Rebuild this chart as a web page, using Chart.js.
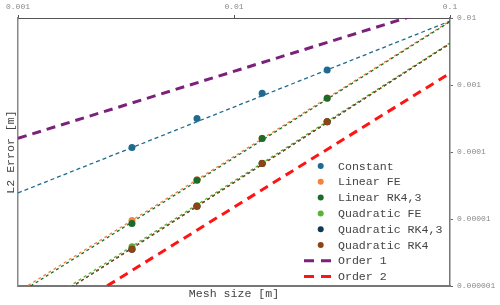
<!DOCTYPE html>
<html>
<head>
<meta charset="utf-8">
<script src="https://cdn.jsdelivr.net/npm/chart.js@4"></script>
<style>
  body { margin: 0; background: #fff; }
</style>
</head>
<body>
<canvas id="myChart" width="500" height="305"></canvas>
<script>
// data
const meshSize = [0.00337, 0.00674, 0.0135, 0.027]
const constantErr = [1.17e-4, 3.17e-4, 7.55e-4, 1.68e-3]
const linearFE = [9.5e-6, 3.85e-5, 1.6e-4, 6.4e-4]
const linearRK43 = [8.6e-6, 3.78e-5, 1.59e-4, 6.35e-4]
const quadFE = [3.85e-6, 1.58e-5, 6.8e-5, 2.83e-4]
const quadRK43 = [3.55e-6, 1.55e-5, 6.75e-5, 2.82e-4]
const quadRK4 = [3.55e-6, 1.55e-5, 6.75e-5, 2.82e-4]

// fitted lines, values at the two ends of the x range
const fitX = [0.001, 0.1]
const constantFit = [2.45e-5, 9.0e-3]
const linearFEFit = [8.2e-7, 9.0e-3]
const linearRK43Fit = [7.6e-7, 8.8e-3]
const quadFEFit = [3.2e-7, 4.25e-3]
const quadRK43Fit = [2.95e-7, 4.15e-3]
const quadRK4Fit = [2.95e-7, 4.15e-3]
const order1 = [1.6e-4, 1.6e-2]
const order2 = [1.5e-7, 1.5e-3]

const xTicks = [0.001, 0.01, 0.1]
const xTickLabels = ['0.001', '0.01', '0.1']
const yTicks = [0.000001, 0.00001, 0.0001, 0.001, 0.01]
const yTickLabels = ['0.000001', '0.00001', '0.0001', '0.001', '0.01']

const mono = 'Liberation Mono'
let chart

function pts(xs, ys) {
    return xs.map((x, i) => ({ x: x, y: ys[i] }))
}

function markers(label, ys, color, order) {
    return {
        type: 'scatter', label: label, data: pts(meshSize, ys),
        backgroundColor: color, borderWidth: 0, pointRadius: 3.5,
        order: order, inLegend: true, kind: 'dot'
    }
}

function fitLine(ys, color, dash, offset, order) {
    return {
        type: 'line', data: pts(fitX, ys), borderColor: color, borderWidth: 1.3,
        borderDash: dash, borderDashOffset: offset, pointRadius: 0, order: order
    }
}

function orderLine(label, ys, color) {
    return {
        type: 'line', label: label, data: pts(fitX, ys), borderColor: color, borderWidth: 3,
        borderDash: [9, 6], pointRadius: 0, order: 30, inLegend: true, kind: 'line'
    }
}

// legend drawn inside the plot, lower right
const innerLegend = {
    id: 'innerLegend',
    afterDraw(chart) {
        const ctx = chart.ctx
        const items = chart.data.datasets.filter(d => d.inLegend)
        items.sort((a, b) => a.legendIndex - b.legendIndex)
        ctx.save()
        ctx.font = '11.6px "' + mono + '"'
        ctx.textBaseline = 'middle'
        ctx.fillStyle = '#444'
        items.forEach((d, i) => {
            const y = 166 + i * 15.8
            if (d.kind === 'dot') {
                ctx.beginPath()
                ctx.arc(320.7, y, 3, 0, Math.PI * 2)
                ctx.fillStyle = d.backgroundColor
                ctx.fill()
            } else {
                ctx.beginPath()
                ctx.setLineDash([10, 7])
                ctx.lineWidth = 3
                ctx.strokeStyle = d.borderColor
                ctx.moveTo(304, y)
                ctx.lineTo(332, y)
                ctx.stroke()
                ctx.setLineDash([])
            }
            ctx.fillStyle = '#444'
            ctx.fillText(d.label, 338, y + 0.5)
        })
        ctx.restore()
    }
}

function showChart() {
    const datasets = [
        markers('Constant', constantErr, '#1f6a8e', 5),
        markers('Linear FE', linearFE, '#f4823c', 4),
        markers('Linear RK4,3', linearRK43, '#1b6b2b', 3),
        markers('Quadratic FE', quadFE, '#5bb336', 2),
        markers('Quadratic RK4,3', quadRK43, '#0e3a56', 1),
        markers('Quadratic RK4', quadRK4, '#8e4513', 0),
        fitLine(constantFit, '#1f6a8e', [4, 3], 0, 20),
        fitLine(linearFEFit, '#f4823c', [3, 3], 0, 19),
        fitLine(linearRK43Fit, '#1b6b2b', [3, 3], 3, 18),
        fitLine(quadFEFit, '#5bb336', [3, 3], 0, 17),
        fitLine(quadRK43Fit, '#0e3a56', [3, 3], 3, 16),
        fitLine(quadRK4Fit, '#8e4513', [3, 3], 3, 15),
        orderLine('Order 1', order1, '#7b217b'),
        orderLine('Order 2', order2, '#ff1414')
    ]
    let n = 0
    datasets.forEach(d => { if (d.inLegend) d.legendIndex = n++ })

    chart && chart.destroy()
    chart = new Chart(document.getElementById('myChart'), {
        type: 'scatter',
        data: { datasets: datasets },
        plugins: [innerLegend],
        options: {
            responsive: false,
            animation: false,
            layout: { padding: 0 },
            plugins: {
                legend: { display: false },
                tooltip: { enabled: false }
            },
            scales: {
                x: {
                    type: 'logarithmic', position: 'top', min: 0.001, max: 0.1,
                    afterBuildTicks: s => { s.ticks = xTicks.map(v => ({ value: v })) },
                    afterFit: s => { s.height = 18 },
                    ticks: {
                        callback: (v, i) => xTickLabels[i],
                        font: { family: mono, size: 8 }, color: '#888',
                        padding: 3, maxRotation: 0, autoSkip: false
                    },
                    grid: { drawOnChartArea: false, drawTicks: true, tickLength: 3, color: '#555' },
                    border: { color: '#555', width: 1 }
                },
                y: {
                    type: 'logarithmic', position: 'right', min: 0.000001, max: 0.01,
                    afterBuildTicks: s => { s.ticks = yTicks.map(v => ({ value: v })) },
                    afterFit: s => { s.width = 50 },
                    ticks: {
                        callback: (v, i) => yTickLabels[i],
                        font: { family: mono, size: 8 }, color: '#888',
                        padding: 4, autoSkip: false
                    },
                    grid: { drawOnChartArea: false, drawTicks: true, tickLength: 3, color: '#666' },
                    border: { color: '#777', width: 1.5 }
                },
                xb: {
                    type: 'logarithmic', position: 'bottom', min: 0.001, max: 0.1,
                    afterFit: s => { s.height = 19 },
                    ticks: { display: false },
                    grid: { display: false },
                    border: { color: '#777', width: 2 },
                    title: {
                        display: true, text: 'Mesh size [m]', color: '#444',
                        font: { family: mono, size: 11.6 }, padding: { top: 0, bottom: 4 }
                    }
                },
                yl: {
                    type: 'logarithmic', position: 'left', min: 0.000001, max: 0.01,
                    afterFit: s => { s.width = 18 },
                    ticks: { display: false },
                    grid: { display: false },
                    border: { color: '#888', width: 1.5 },
                    title: {
                        display: true, text: 'L2 Error [m]', color: '#444',
                        font: { family: mono, size: 11.6 }, padding: { top: 3.5, bottom: 0 }
                    }
                }
            }
        }
    })
}

showChart()
</script>
</body>
</html>
